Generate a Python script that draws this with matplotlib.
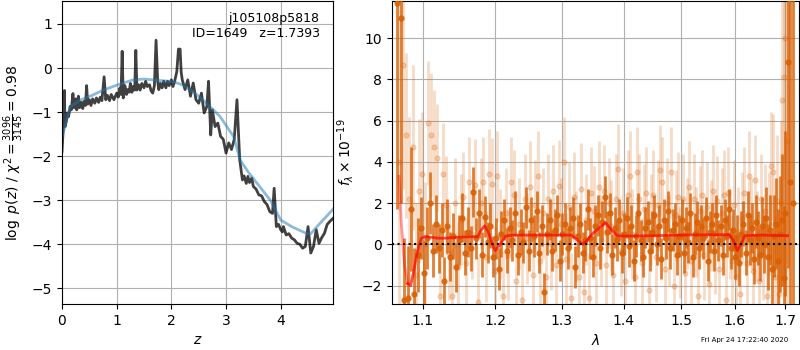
import numpy as np
import matplotlib
matplotlib.use('Agg')
import matplotlib.pyplot as plt
from matplotlib.ticker import FixedLocator, FixedFormatter, NullLocator

# p(z) curve (dark) and smoothed chi2 curve (blue)
z_pz = [0.0, 0.02, 0.03, 0.045, 0.055, 0.08, 0.1, 0.12, 0.15, 0.17, 0.2, 0.22, 0.25, 0.27,
        0.3, 0.32, 0.35, 0.38, 0.4, 0.43, 0.45, 0.47, 0.5, 0.53, 0.56, 0.6, 0.63, 0.67,
        0.7, 0.73, 0.77, 0.8, 0.83, 0.87, 0.9, 0.95, 1.0, 1.03, 1.06, 1.08, 1.1, 1.12,
        1.15, 1.18, 1.2, 1.23, 1.25, 1.28, 1.3, 1.33, 1.35, 1.37, 1.4, 1.43, 1.46, 1.5,
        1.53, 1.56, 1.6, 1.63, 1.66, 1.69, 1.72, 1.75, 1.77, 1.8, 1.83, 1.86, 1.9, 1.93,
        1.96, 2.0, 2.03, 2.06, 2.1, 2.13, 2.16, 2.18, 2.2, 2.25, 2.3, 2.35, 2.4, 2.45,
        2.5, 2.55, 2.6, 2.65, 2.68, 2.72, 2.75, 2.8, 2.85, 2.9, 2.95, 3.0, 3.05, 3.1,
        3.15, 3.2, 3.25, 3.3, 3.33, 3.37, 3.4, 3.43, 3.47, 3.5, 3.55, 3.6, 3.65, 3.7,
        3.75, 3.8, 3.85, 3.88, 3.92, 3.96, 4.0, 4.03, 4.05, 4.1, 4.15, 4.2, 4.25, 4.3,
        4.35, 4.4, 4.45, 4.5, 4.55, 4.6, 4.65, 4.7, 4.75, 4.8, 4.85, 4.9, 4.96]
log_pz = [-1.89, -1.45, -1.1, -0.51, -1.33, -1.2, -1.02, -1.1, -0.87, -0.95, -0.58, -0.9,
          -0.7, -0.95, -0.64, -0.9, -0.78, -0.92, -0.76, -0.85, -0.4, -0.82, -0.72, -0.85,
          -0.7, -0.8, -0.68, -0.78, -0.66, -0.74, -0.2, -0.72, -0.62, -0.74, -0.6, -0.72,
          -0.57, -0.66, -0.45, -0.6, 0.38, -0.68, -0.4, -0.6, -0.49, -0.55, -0.35, -0.55,
          -0.42, -0.5, 0.4, -0.5, -0.38, -0.5, -0.35, -0.45, -0.3, -0.42, -0.38, -0.52,
          -0.57, -0.4, 0.63, -0.3, -0.49, -0.35, -0.45, -0.3, -0.45, -0.3, -0.4, -0.27,
          -0.42, -0.3, -0.08, 0.43, 0.43, -0.1, -0.27, -0.49, -0.27, -0.64, -0.34, -0.72,
          -0.8, -0.57, -1.02, -0.87, -0.3, -1.52, -0.95, -1.33, -1.25, -1.55, -1.62, -1.93,
          -1.7, -1.85, -1.62, -0.72, -2.08, -2.54, -2.45, -2.62, -2.46, -2.6, -2.5, -2.69,
          -2.75, -2.88, -2.9, -3.03, -3.1, -3.26, -3.3, -2.73, -3.6, -3.55, -3.67, -3.72,
          -3.6, -3.79, -3.76, -3.86, -3.9, -3.98, -4.0, -4.09, -4.05, -3.6, -4.2, -4.05,
          -3.67, -3.98, -3.85, -3.75, -3.55, -3.48, -3.41]

z_chi = [0.0, 0.055, 0.15, 0.33, 0.55, 0.76, 1.0, 1.3, 1.5, 1.67, 2.03, 2.2, 2.4, 2.6,
         2.89, 3.14, 3.26, 3.4, 3.57, 3.81, 4.0, 4.2, 4.48, 4.55, 4.7, 4.97]
chi_curve = [-1.55, -1.33, -0.88, -0.73, -0.62, -0.5, -0.39, -0.27, -0.25, -0.27, -0.31,
             -0.38, -0.54, -0.75, -1.1, -1.56, -2.09, -2.35, -2.62, -3.0, -3.45, -3.6,
             -3.76, -3.76, -3.55, -3.19]

# spectrum: strong points
wave_a = [1.067, 1.072, 1.076, 1.080, 1.084, 1.089, 1.093, 1.097,
          1.101, 1.105, 1.109, 1.113, 1.117, 1.121, 1.125, 1.129, 1.133, 1.137, 1.141, 1.145, 1.149,
          1.153, 1.157, 1.161, 1.165, 1.169, 1.173, 1.177, 1.181, 1.185, 1.189, 1.193, 1.197,
          1.201, 1.205, 1.209, 1.213, 1.217, 1.221, 1.225, 1.229, 1.233, 1.237, 1.241, 1.245, 1.249,
          1.253, 1.257, 1.261, 1.265, 1.269, 1.273, 1.277, 1.281, 1.285, 1.289, 1.293, 1.297,
          1.301, 1.305, 1.309, 1.313, 1.317, 1.321, 1.325, 1.329, 1.333, 1.337, 1.341, 1.345, 1.349,
          1.353, 1.357, 1.361, 1.365, 1.369, 1.373, 1.377, 1.381, 1.385, 1.389, 1.393, 1.397,
          1.401, 1.405, 1.409, 1.413, 1.417, 1.421, 1.425, 1.429, 1.433, 1.437, 1.441, 1.445, 1.449,
          1.453, 1.457, 1.461, 1.465, 1.469, 1.473, 1.477, 1.481, 1.485, 1.489, 1.493, 1.497,
          1.501, 1.505, 1.509, 1.513, 1.517, 1.521, 1.525, 1.529, 1.533, 1.537, 1.541, 1.545, 1.549,
          1.553, 1.557, 1.561, 1.565, 1.569, 1.573, 1.577, 1.581, 1.585, 1.589, 1.593, 1.597,
          1.601, 1.605, 1.609, 1.613, 1.617, 1.621, 1.625, 1.629, 1.633, 1.637, 1.641, 1.645, 1.649,
          1.653, 1.657, 1.661, 1.665, 1.669, 1.673, 1.677, 1.681, 1.685, 1.689, 1.693, 1.697,
          1.700, 1.705, 1.711, 1.717]
flux_a = [11.7, 11.0, -2.7, -2.6, 1.7, -2.4, -0.5, 0.8,
          -1.4, 0.3, 2.0, -0.3, 1.0, -0.2, 0.7, -1.8, 0.9, -0.6, 0.4, -1.1, 0.2,
          1.3, -0.4, 0.6, -0.2, 2.55, 0.3, 1.5, -0.5, 1.35, 0.1, 0.9, -0.6,
          0.3, -1.2, 0.5, 1.2, -0.3, 0.8, 0.2, 1.5, -0.5, 0.6, 0.1, 1.8, -0.3,
          1.2, 0.4, 1.6, -0.4, 0.9, -2.3, 0.5, 1.2, -0.3, 0.7, 1.4, -0.8,
          0.5, 1.0, -0.2, 0.8, 1.3, -1.1, 0.4, 1.0, -0.4, 0.2, 1.7, 0.3, -0.6,
          0.9, 1.4, -0.2, 1.1, 2.3, 0.6, 1.5, -0.5, 0.8, 0.2, 1.2, -0.4,
          0.5, 1.3, -0.1, 0.9, -0.8, 0.4, 1.5, 0.2, -0.6, 0.8, 1.1, -0.3, 0.6,
          1.4, 0.0, 0.9, -0.7, 1.2, 0.3, 1.6, -0.2, 0.7, 1.0, -0.5, 0.4,
          1.2, -0.4, 0.8, 0.1, 1.5, -0.6, 0.5, 1.1, -0.2, 0.9, 0.3, 1.3, -0.8,
          0.6, 1.0, -0.3, 1.4, 0.2, 0.9, -0.5, 1.2, 0.4, 1.7, -0.2, 0.7,
          -0.6, 0.3, -0.9, 0.5, 1.0, -0.4, 1.4, 0.2, 0.8, -0.7, 1.1, 0.3, -0.5,
          0.9, 0.0, 1.3, -0.6, 0.7, -1.2, 0.4, 1.0, -0.8, 0.5, 1.2, -1.65,
          1.5, 8.85, 3.0, 2.0]
err_a = [10, 9, 3, 2.5, 3, 2.2, 1.8, 1.5,
         1.6, 1.5, 1.5, 1.3, 1.4, 1.2, 1.3, 1.2, 1.3, 1.2, 1.1, 1.2, 1.2,
         1.2, 1.1, 1.2, 1.1, 1.2, 1.0, 1.2, 1.1, 1.0, 1.0, 1.1, 1.0,
         1.0, 1.0, 1.1, 1.0, 1.1, 1.0, 1.0, 1.1, 1.0, 1.1, 1.0, 1.0, 1.0,
         1.1, 1.0, 1.0, 1.0, 1.0, 0.9, 1.0, 1.0, 1.0, 1.0, 1.0, 1.0,
         1.0, 1.0, 1.0, 1.0, 1.0, 1.0, 1.0, 1.0, 1.0, 1.0, 1.0, 1.0, 1.0,
         1.0, 1.0, 1.0, 1.0, 1.0, 1.0, 1.0, 1.0, 1.0, 1.0, 1.0, 1.0,
         1.0, 1.0, 1.0, 1.0, 1.0, 1.0, 1.0, 1.0, 1.0, 1.0, 1.0, 1.0, 1.0,
         1.0, 1.0, 1.0, 1.0, 1.0, 1.0, 1.0, 1.0, 1.0, 1.0, 1.0, 1.0,
         1.0, 1.0, 1.0, 1.0, 1.0, 1.0, 1.0, 1.0, 1.0, 1.0, 1.0, 1.0, 1.0,
         1.0, 1.0, 1.0, 1.0, 1.0, 1.0, 1.0, 1.0, 1.0, 1.0, 1.0, 1.0,
         1.1, 1.1, 1.1, 1.1, 1.1, 1.1, 1.2, 1.2, 1.2, 1.2, 1.3, 1.3, 1.3,
         1.4, 1.4, 1.5, 1.6, 1.7, 1.8, 2.0, 2.2, 2.5, 2.8, 3.2, 3.5,
         4.0, 10.0, 12, 14]

# spectrum: faint points
wave_b = [1.069, 1.074, 1.078, 1.082, 1.087, 1.091, 1.095, 1.099, 1.103, 1.107, 1.111, 1.115,
          1.119, 1.123, 1.127, 1.131, 1.135, 1.139, 1.143, 1.147, 1.151, 1.155, 1.159, 1.163,
          1.167, 1.171, 1.175, 1.179, 1.183, 1.187, 1.191, 1.195, 1.199, 1.203, 1.207, 1.211,
          1.215, 1.219, 1.223, 1.227, 1.231, 1.235, 1.239, 1.243, 1.247, 1.251, 1.255, 1.259,
          1.263, 1.267, 1.271, 1.275, 1.279, 1.283, 1.287, 1.291, 1.295, 1.299, 1.303, 1.307,
          1.311, 1.315, 1.319, 1.323, 1.327, 1.331, 1.335, 1.339, 1.343, 1.347, 1.351, 1.355,
          1.359, 1.363, 1.367, 1.371, 1.375, 1.379, 1.383, 1.387, 1.391, 1.395, 1.399, 1.403,
          1.407, 1.411, 1.415, 1.419, 1.423, 1.427, 1.431, 1.435, 1.439, 1.443, 1.447, 1.451,
          1.455, 1.459, 1.463, 1.467, 1.471, 1.475, 1.479, 1.483, 1.487, 1.491, 1.495, 1.499,
          1.503, 1.507, 1.511, 1.515, 1.519, 1.523, 1.527, 1.531, 1.535, 1.539, 1.543, 1.547,
          1.551, 1.555, 1.559, 1.563, 1.567, 1.571, 1.575, 1.579, 1.583, 1.587, 1.591, 1.595,
          1.599, 1.603, 1.607, 1.611, 1.615, 1.619, 1.623, 1.627, 1.631, 1.635, 1.639, 1.643,
          1.647, 1.651, 1.655, 1.659, 1.663, 1.667, 1.671, 1.675, 1.679, 1.683, 1.687, 1.691,
          1.694, 1.697, 1.700, 1.703]
flux_b = [4.0, 8.7, 5.3, 2.2, 4.7, -1.5, 2.6, 3.4, 0.0, 5.9, 5.3, 4.7,
          4.2, -2.5, 3.4, 1.9, -0.4, -2.5, 2.0, -1.1, 1.2, 2.3, -0.9, 3.0,
          0.5, 2.9, -2.8, 2.0, 3.0, -0.6, 3.4, 2.95, -1.3, 3.3, 0.5, -2.5,
          1.5, -0.5, 3.0, 2.4, -1.8, 1.0, -2.7, 2.2, 0.3, 2.8, -1.5, 1.9,
          3.3, -0.8, 1.5, -1.6, 2.2, 0.0, 2.6, -1.0, 2.85, 1.0, 4.0, -0.7,
          1.8, -2.6, 2.3, 0.4, -1.6, 2.7, -2.3, 1.2, -2.6, 2.5, 1.6, -0.9,
          2.8, 0.2, 2.6, -1.0, 2.0, 0.9, -1.5, 2.2, 3.65, -0.3, 1.5, -1.8,
          2.4, 3.3, 0.5, -1.6, 3.5, 2.2, -0.9, 1.7, 2.5, -2.2, 1.2, 2.4,
          -0.6, 1.9, 3.6, 3.0, -1.2, 2.0, 0.2, 3.5, -2.0, 1.4, 2.3, -0.4,
          2.2, -1.4, 1.0, 2.8, -0.8, 2.2, 0.6, -2.5, 1.6, 2.4, -0.5, 1.8,
          -1.9, 0.9, 2.6, -0.2, 2.1, -1.2, 1.5, 2.4, -2.7, 2.5, 0.5, -0.8,
          1.9, -1.6, 0.6, -2.4, 1.3, 2.5, -0.9, 3.3, 1.0, -1.3, 3.1, 0.4,
          -1.8, 2.2, -0.5, 1.6, -2.5, 1.0, 3.8, 3.5, -1.6, 2.1, -2.4, 2.0,
          7.0, 8.1, 10.0, 5.0]
err_b = [8, 6, 4, 4, 4, 3.5, 3.5, 3, 3, 3, 3, 2.8,
         2.6, 2.5, 2.5, 2.4, 2.3, 2.3, 2.2, 2.2, 2.2, 2.2, 2.2, 2.2,
         2.2, 2.2, 2.2, 2.2, 2.2, 2.2, 2.2, 2.2, 2.2, 2.2, 2.2, 2.2,
         2.2, 2.2, 2.2, 2.2, 2.2, 2.2, 2.2, 2.2, 2.2, 2.2, 2.2, 2.2,
         2.2, 2.2, 2.2, 2.2, 2.2, 2.2, 2.2, 2.2, 2.2, 2.2, 2.2, 2.2,
         2.2, 2.2, 2.2, 2.2, 2.2, 2.2, 2.2, 2.2, 2.2, 2.2, 2.2, 2.2,
         2.2, 2.2, 2.2, 2.2, 2.2, 2.2, 2.2, 2.2, 2.2, 2.2, 2.2, 2.2,
         2.2, 2.2, 2.2, 2.2, 2.2, 2.2, 2.2, 2.2, 2.2, 2.2, 2.2, 2.2,
         2.2, 2.2, 2.2, 2.2, 2.2, 2.2, 2.2, 2.2, 2.2, 2.2, 2.2, 2.2,
         2.2, 2.2, 2.2, 2.2, 2.2, 2.2, 2.2, 2.2, 2.2, 2.2, 2.2, 2.2,
         2.2, 2.2, 2.2, 2.2, 2.2, 2.2, 2.2, 2.2, 2.2, 2.2, 2.2, 2.2,
         2.2, 2.2, 2.2, 2.2, 2.2, 2.2, 2.2, 2.2, 2.2, 2.2, 2.2, 2.2,
         2.2, 2.2, 2.2, 2.3, 2.4, 2.5, 2.6, 2.8, 3.0, 3.2, 3.5, 4,
         5, 5, 6, 8]

# model line
wave_m = [1.069, 1.072, 1.076, 1.080, 1.084, 1.088, 1.093, 1.098, 1.103, 1.11, 1.12, 1.13,
          1.15, 1.175, 1.18, 1.185, 1.19, 1.197, 1.20, 1.207, 1.215, 1.225, 1.3, 1.315,
          1.325, 1.333, 1.34, 1.35, 1.36, 1.37, 1.38, 1.39, 1.40, 1.45, 1.5, 1.59,
          1.597, 1.605, 1.612, 1.62, 1.65, 1.705]
flux_m = [3.3, 1.0, -1.0, -1.9, -2.0, -1.3, -0.3, 0.3, 0.38, 0.35, 0.3, 0.3,
          0.35, 0.38, 0.7, 0.9, 0.6, -0.1, -0.3, 0.0, 0.4, 0.45, 0.45, 0.45,
          0.2, 0.0, 0.2, 0.55, 0.8, 1.05, 0.7, 0.42, 0.4, 0.42, 0.45, 0.47,
          0.2, -0.3, 0.0, 0.42, 0.45, 0.42]

wave_ticks = [1.1, 1.2, 1.3, 1.4, 1.5, 1.6, 1.7]
orange = '#d95f02'

fig = plt.figure(figsize=(8, 3.5), dpi=100)

ax = fig.add_axes([0.0775, 0.131, 0.339, 0.866])
ax.plot(z_pz, log_pz, color='k', alpha=0.75, lw=2)
ax.plot(z_chi, chi_curve, color='#1f77b4', alpha=0.5, lw=2)
ax.set_xlim(0, 4.96)
ax.set_ylim(-5.36, 1.52)
ax.set_xticks([0, 1, 2, 3, 4])
ax.set_yticks([-5, -4, -3, -2, -1, 0, 1])
ax.grid()
ax.set_xlabel('$z$')
ax.set_ylabel(r'$\log\ p(z)$ / $\chi^2=\frac{3096}{3145}=0.98$')
ax.text(0.95, 0.965, 'j105108p5818\nID=1649   z=1.7393', transform=ax.transAxes,
        ha='right', va='top', fontsize=9)

ax2 = fig.add_axes([0.49, 0.131, 0.509, 0.866])
ax2.errorbar(wave_b, flux_b, yerr=err_b, fmt='o', color=orange, alpha=0.22,
             ms=3.5, elinewidth=2, zorder=2)
ax2.errorbar(wave_a, flux_a, yerr=err_a, fmt='o', color=orange, alpha=0.8,
             ms=3.5, elinewidth=2, zorder=3)
ax2.plot(wave_m[:4], flux_m[:4], color='red', alpha=0.4, lw=2, zorder=4)
ax2.plot(wave_m[3:], flux_m[3:], color='red', alpha=0.7, lw=2, zorder=4)
ax2.axhline(0, color='k', ls=':', lw=1.5, zorder=5)
ax2.set_xscale('log')
ax2.xaxis.set_major_locator(FixedLocator(wave_ticks))
ax2.xaxis.set_major_formatter(FixedFormatter([str(w) for w in wave_ticks]))
ax2.xaxis.set_minor_locator(NullLocator())
ax2.set_xlim(1.060, 1.729)
ax2.set_ylim(-2.9, 11.8)
ax2.set_yticks([-2, 0, 2, 4, 6, 8, 10])
ax2.grid()
ax2.set_xlabel(r'$\lambda$')
ax2.set_ylabel(r'$f_\lambda\times10^{-19}$')

fig.text(0.985, 0.029, 'Fri Apr 24 17:22:40 2020', ha='right', va='center', fontsize=5)

fig.savefig('out.png', dpi=100)
